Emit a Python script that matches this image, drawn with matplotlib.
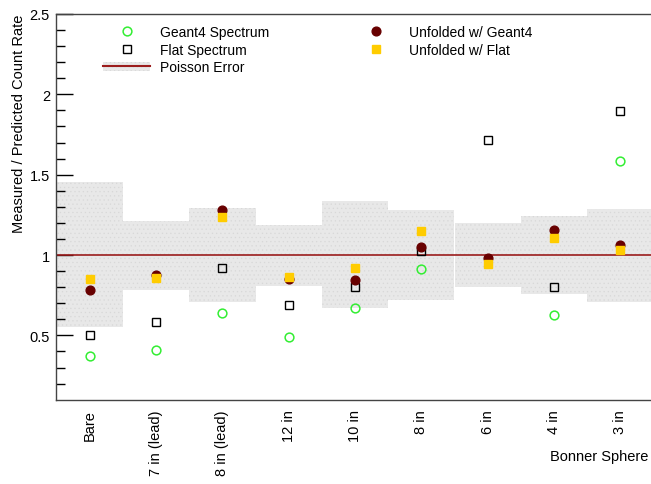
import numpy as np
import matplotlib
matplotlib.use("Agg")
import matplotlib.pyplot as plt
from matplotlib.lines import Line2D
from matplotlib.patches import Patch
from matplotlib.legend_handler import HandlerTuple

plt.rcParams['font.family'] = ['Liberation Sans', 'DejaVu Sans']
plt.rcParams['hatch.linewidth'] = 0.4

categories = ["Bare", "7 in (lead)", "8 in (lead)", "12 in", "10 in", "8 in", "6 in", "4 in", "3 in"]
geant4_spectrum = [0.375, 0.411, 0.640, 0.488, 0.669, 0.915, np.nan, 0.628, 1.584]
flat_spectrum = [0.504, 0.581, 0.921, 0.688, 0.800, 1.025, 1.719, 0.800, 1.896]
unfolded_geant4 = [0.781, 0.875, 1.281, 0.852, 0.842, 1.048, 0.984, 1.156, 1.063]
unfolded_flat = [0.852, 0.859, 1.238, 0.863, 0.919, 1.148, 0.942, 1.109, 1.029]
poisson_hi = [1.452, 1.213, 1.290, 1.190, 1.334, 1.278, 1.198, 1.246, 1.286]
poisson_lo = [0.550, 0.781, 0.706, 0.806, 0.669, 0.719, 0.800, 0.756, 0.709]

W, H = 651, 485
fig = plt.figure(figsize=(W / 100, H / 100), dpi=100)
ax_l, ax_r, ax_t, ax_b = 56.5, 653.5, 15, 400.7
ax = fig.add_axes([ax_l / W, 1 - ax_b / H, (ax_r - ax_l) / W, (ax_b - ax_t) / H])

x = np.arange(len(categories)) + 0.5
hi = np.array(poisson_hi)
lo = np.array(poisson_lo)

band_fc = '#e8e8e8'
band_hc = '#d8d8d8'

# Poisson error band
ax.bar(x, hi - lo, bottom=lo, width=1.0, facecolor=band_fc, edgecolor=band_hc,
       hatch='....', linewidth=0, zorder=1)
ax.axhline(1.0, color='#9b1c1c', lw=1.2, zorder=2)

ms = 6.3
ax.plot(x, geant4_spectrum, 'o', ls='none', mfc='none', mec='#33ee33', mew=1.1, ms=ms, zorder=3)
ax.plot(x, flat_spectrum, 's', ls='none', mfc='none', mec='black', mew=1.0, ms=ms, zorder=4)
ax.plot(x, unfolded_geant4, 'o', ls='none', mfc='#680000', mec='#680000', ms=ms, zorder=5)
ax.plot(x, unfolded_flat, 's', ls='none', mfc='#ffcc00', mec='#ffcc00', ms=5.5, zorder=6)

ax.set_xlim(0, len(categories))
ax.set_ylim(0.1, 2.5)
ax.set_xticks(x)
ax.set_xticklabels(categories, rotation=90, va='top', ha='center', fontsize=10.5)
ax.tick_params(axis='x', length=0, pad=7)
ax.set_yticks([0.5, 1.0, 1.5, 2.0, 2.5])
ax.set_yticklabels(['0.5', '1', '1.5', '2', '2.5'], fontsize=10.5)
ax.set_yticks(np.arange(0.2, 2.5, 0.1), minor=True)
ax.tick_params(axis='y', which='major', direction='in', length=12, width=1, pad=4.7)
ax.tick_params(axis='y', which='minor', direction='in', length=6.5, width=1)
for s in ['left', 'bottom', 'top']:
    ax.spines[s].set_color('#444444')
    ax.spines[s].set_linewidth(1)
ax.spines['right'].set_visible(False)

ax.set_ylabel('Measured / Predicted Count Rate', loc='top', fontsize=10.5)
ax.yaxis.set_label_coords((26 - ax_l) / (ax_r - ax_l), 1.0)
fig.text(648 / W, 1 - 457 / H, 'Bonner Sphere', ha='right', va='center', fontsize=10.5)

# Legends
h_g4 = Line2D([], [], marker='o', ls='none', mfc='none', mec='#33ee33', mew=1.1, ms=ms)
h_flat = Line2D([], [], marker='s', ls='none', mfc='none', mec='black', mew=1.0, ms=ms)
h_pois = (Patch(facecolor=band_fc, edgecolor=band_hc, hatch='....', linewidth=0),
          Line2D([], [], color='#9b1c1c', lw=1.5))
h_ug = Line2D([], [], marker='o', ls='none', mfc='#680000', mec='#680000', ms=ms)
h_uf = Line2D([], [], marker='s', ls='none', mfc='#ffcc00', mec='#ffcc00', ms=5.5)

common = dict(frameon=False, fontsize=10, handlelength=3.4, handletextpad=0.72,
              labelspacing=0.26, borderpad=0, borderaxespad=0, loc='upper left',
              handler_map={tuple: HandlerTuple(ndivide=1, pad=0)})
leg1 = fig.legend([h_g4, h_flat, h_pois], ['Geant4 Spectrum', 'Flat Spectrum', 'Poisson Error'],
                  bbox_to_anchor=(103 / W, 1 - 26 / H), **common)
leg2 = fig.legend([h_ug, h_uf], ['Unfolded w/ Geant4', 'Unfolded w/ Flat'],
                  bbox_to_anchor=(352 / W, 1 - 26 / H), **common)

fig.savefig('out.png', dpi=100)
